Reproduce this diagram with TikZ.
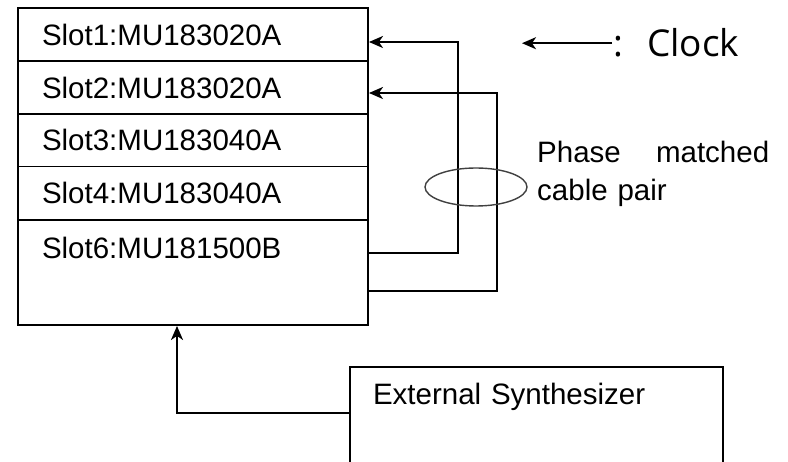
\documentclass[tikz,border=0pt]{standalone}
\usepackage{fontspec}
\setmainfont{Liberation Sans}
\newfontfamily\clockfont{Open Sans}
\usetikzlibrary{arrows.meta,shapes.geometric}

\tikzset{
  slotbox/.style={draw,line width=1.9pt,minimum width=350pt,minimum height=53pt,
    text width=302pt,inner xsep=24pt,align=left,font=\fontsize{29.5}{38}\selectfont},
  clk/.style={line width=1.9pt,-{Stealth[length=14pt,width=12pt,inset=4pt]}},
}

\begin{document}
\begin{tikzpicture}[x=1pt,y=-1pt]
  \clip (0,0) rectangle (788,462);
  % module slots of the mainframe
  \node[slotbox] (slot1) at (193,34.5) {Slot1:MU183020A};
  \node[slotbox] (slot2) at (193,87.5) {Slot2:MU183020A};
  \node[slotbox] (slot3) at (193,140) {Slot3:MU183040A};
  \node[slotbox] (slot4) at (193,193) {Slot4:MU183040A};
  \node[slotbox,minimum height=105pt] (slot6) at (193,272.5) {Slot6:MU181500B\\ \strut};
  % clock cables
  \coordinate (b1) at (458,150);
  \coordinate (b2) at (497,150);
  \draw[clk] ([yshift=19.5pt]slot6.east) -| (b1) |- ([yshift=-7.5pt]slot1.east);
  \draw[clk] ([yshift=-18.5pt]slot6.east) -| (b2) |- ([yshift=-5.5pt]slot2.east);
  \node[draw=black!75,line width=1.4pt,ellipse,minimum width=102pt,minimum height=38pt] (pair) at (476,187) {};
  \node[anchor=north west,text width=232pt,inner sep=0pt,align=left,
    font=\fontsize{29.5}{38}\selectfont] (pairtxt) at (537,141) {Phase\hfill matched\\cable pair};
  % legend
  \node[anchor=base west,inner sep=0pt,font=\clockfont\fontsize{37}{42}\selectfont] (legend) at (613,57)
    {:\hspace{24pt}Clock};
  \coordinate (legtip) at (522,46);
  \draw[clk] ([xshift=-1pt]legend.west) -- (legend.west -| legtip);
  % synthesizer
  \node[draw,line width=1.9pt,minimum width=373pt,minimum height=103pt,text width=327pt,
    inner xsep=23pt,align=left,font=\fontsize{29.5}{38}\selectfont] (synth) at (536.5,418.5)
    {External Synthesizer\\ \strut};
  \draw[clk] ([yshift=5.5pt]synth.west) -| ([xshift=-16pt]slot6.south);
\end{tikzpicture}
\end{document}
